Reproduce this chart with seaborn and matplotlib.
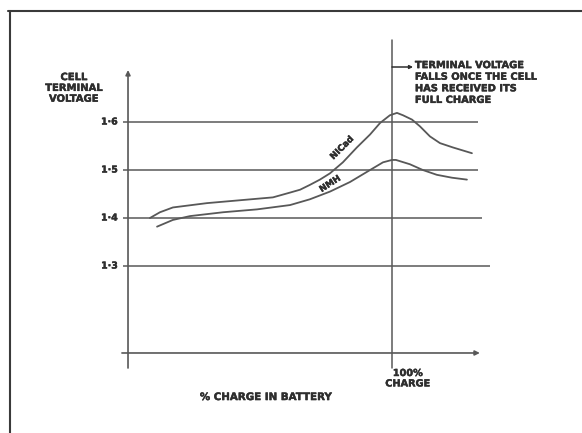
import matplotlib
matplotlib.use("Agg")
import matplotlib.pyplot as plt
import matplotlib.patheffects as pe
from matplotlib.lines import Line2D
import pandas as pd
import seaborn as sns

# Charge level (% of full charge) against cell terminal voltage (V)
nicad_charge = [8.3, 12.1, 17.0, 29.9, 42.4, 54.9, 61.4, 65.2, 68.9, 72.7, 76.5, 81.4, 86.7,
                91.7, 95.5, 99.2, 101.9, 104.2, 107.6, 110.6, 114.4, 118.2, 123.1, 130.3]
nicad_volts = [1.400, 1.412, 1.422, 1.431, 1.437, 1.443, 1.453, 1.459, 1.469, 1.480, 1.493, 1.516,
               1.547, 1.574, 1.598, 1.614, 1.619, 1.614, 1.605, 1.591, 1.570, 1.556, 1.547, 1.535]

nimh_charge = [11.0, 17.0, 23.5, 36.0, 48.9, 61.4, 68.9, 76.5, 84.1, 91.7, 96.6, 100.0, 101.5,
               106.8, 111.7, 117.0, 122.7, 128.4]
nimh_volts = [1.382, 1.396, 1.404, 1.412, 1.418, 1.427, 1.439, 1.455, 1.475, 1.500, 1.516, 1.521,
              1.521, 1.512, 1.500, 1.490, 1.484, 1.480]

voltage_ticks = [1.3, 1.4, 1.5, 1.6]
voltage_tick_labels = ["1·3", "1·4", "1·5", "1·6"]
full_charge = 100

df = pd.DataFrame({
    "charge": nicad_charge + nimh_charge,
    "volts": nicad_volts + nimh_volts,
    "cell": ["NICad"] * len(nicad_charge) + ["NMH"] * len(nimh_charge),
})

sns.set_style("white")
plt.rcParams["font.family"] = ["DejaVu Sans"]

INK = "#2e2e2e"
LINE = "#585858"
heavy = [pe.withStroke(linewidth=0.3, foreground=INK)]
TXT = dict(fontweight="bold", color=INK, path_effects=heavy)

fig = plt.figure(figsize=(5.82, 4.33), dpi=100)
ax = fig.add_axes([0, 0, 1, 1])

# horizontal reference lines at each voltage level
grid_ends = {1.3: 137.0, 1.4: 134.0, 1.5: 132.6, 1.6: 132.6}
for v, lab in zip(voltage_ticks, voltage_tick_labels):
    ax.plot([-1.9, grid_ends[v]], [v, v], color=LINE, lw=1.1, solid_capstyle="butt")
    ax.text(-3.8, v, lab, ha="right", va="center", fontsize=6.8, **TXT)

# axes with arrowheads
ax.annotate("", xy=(0, 1.7083), xytext=(0, 1.0875),
            arrowprops=dict(arrowstyle="-|>", color=LINE, lw=1.2,
                            mutation_scale=7, shrinkA=0, shrinkB=0))
ax.annotate("", xy=(133.3, 1.1188), xytext=(-2.3, 1.1188),
            arrowprops=dict(arrowstyle="-|>", color=LINE, lw=1.2,
                            mutation_scale=7, shrinkA=0, shrinkB=0))

# full-charge marker line
ax.plot([full_charge, full_charge], [1.0875, 1.7708], color=LINE, lw=1.1)

# charge curves
sns.lineplot(data=df, x="charge", y="volts", hue="cell",
             palette={"NICad": LINE, "NMH": LINE}, legend=False,
             lw=1.3, ax=ax, sort=False, estimator=None)
ax.set_xlim(-48.5, 172.0)
ax.set_ylim(0.9521, 1.8542)
ax.axis("off")

ax.text(81.0, 1.546, "NICad", rotation=45, ha="center", va="center",
        fontsize=6.3, **TXT)
ax.text(76.5, 1.471, "NMH", rotation=33, ha="center", va="center",
        fontsize=6.3, **TXT)

# axis titles
ax.text(-20.5, 1.704, "CELL\nTERMINAL\nVOLTAGE", ha="center", va="top",
        fontsize=7.2, linespacing=1.1, **TXT)
ax.text(52.3, 1.027, "% CHARGE IN BATTERY", ha="center", va="center",
        fontsize=7.4, **TXT)
ax.text(106.0, 1.0875, "100%\nCHARGE", ha="center", va="top",
        fontsize=7.0, linespacing=1.05, **TXT)

# callout
ax.annotate("", xy=(108.0, 1.7146), xytext=(100, 1.7146),
            arrowprops=dict(arrowstyle="-|>", color=INK, lw=1.1,
                            mutation_scale=5, shrinkA=0, shrinkB=0))
ax.text(108.7, 1.729, "TERMINAL VOLTAGE\nFALLS ONCE THE CELL\nHAS RECEIVED ITS\nFULL CHARGE",
        ha="left", va="top", fontsize=7.1, linespacing=1.2, **TXT)

# page frame
fig.add_artist(Line2D([8 / 582, 1.0], [1 - 11 / 433, 1 - 11 / 433],
                      transform=fig.transFigure, color="#3a3a3a", lw=1.5))
fig.add_artist(Line2D([10 / 582, 10 / 582], [0, 1 - 11 / 433],
                      transform=fig.transFigure, color="#3a3a3a", lw=1.5))

fig.savefig("out.png", dpi=100)
